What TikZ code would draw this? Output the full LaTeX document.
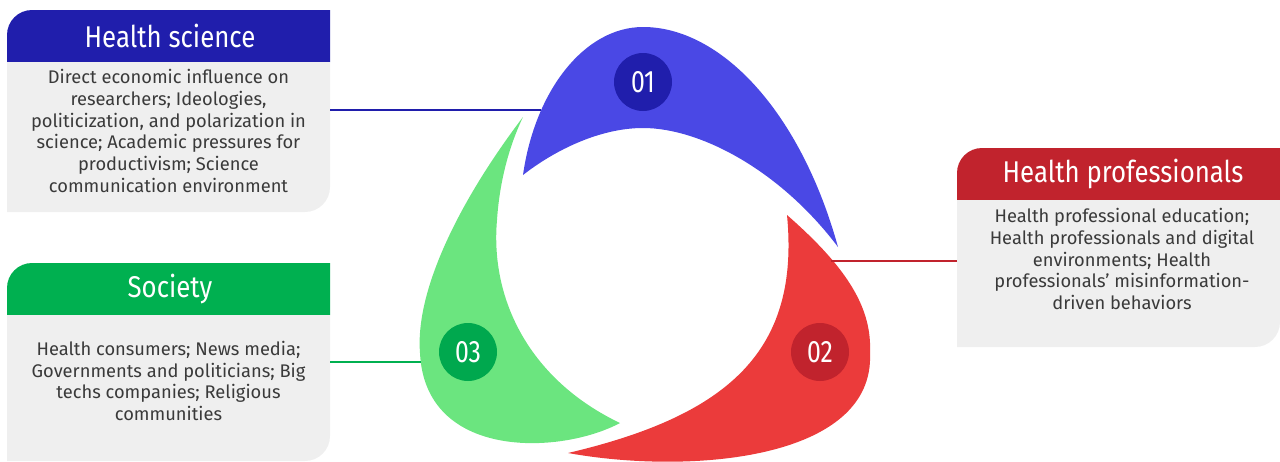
\documentclass[tikz,border=0pt]{standalone}
\usepackage{fontspec}
\setmainfont{Fira Sans}
\newfontfamily\headfont{Fira Sans}[FakeStretch=0.86]
\newfontfamily\numfont{Fira Sans}[FakeStretch=0.8]
\definecolor{hblue}{RGB}{32,30,172}
\definecolor{bblue}{RGB}{74,72,229}
\definecolor{hred}{RGB}{193,35,45}
\definecolor{bred}{RGB}{235,59,59}
\definecolor{hgreen}{RGB}{0,176,80}
\definecolor{cgreen}{RGB}{0,168,78}
\definecolor{bgreen}{RGB}{107,229,127}
\definecolor{panel}{RGB}{239,239,239}
\definecolor{bodytext}{RGB}{58,58,58}
\tikzset{
  headtext/.style={text=white, font=\headfont\fontsize{30}{32}\selectfont, anchor=center},
  bodytextstyle/.style={text=bodytext, font=\fontsize{18.3}{21.8}\selectfont, align=center, anchor=center},
  numtext/.style={circle, minimum size=58pt, inner sep=0pt, text=white, font=\numfont\fontsize{31}{32}\selectfont},
  link/.style={line width=2pt},
}
\begin{document}
\begin{tikzpicture}[x=1pt,y=-1pt]
\useasboundingbox (0,0) rectangle (1280,461);

% ---- blades of the cycle ----
\fill[bblue] (523,175) .. controls (535,90) and (585,27) .. (643,27)
  .. controls (720,27) and (800,110) .. (838,247)
  .. controls (780,170) and (700,128) .. (643,128)
  .. controls (600,128) and (555,150) .. (523,175) -- cycle;

\fill[bred] (787,215) .. controls (850,270) and (872,310) .. (870,353)
  .. controls (875,460) and (690,475) .. (568,453)
  .. controls (730,415) and (800,350) .. (787,215) -- cycle;

\fill[bgreen] (523,117) .. controls (460,200) and (415,290) .. (420,353)
  .. controls (425,460) and (560,455) .. (620,423)
  .. controls (530,380) and (490,300) .. (497,220)
  .. controls (500,175) and (512,140) .. (523,117) -- cycle;

% ---- numbered badges ----
\node[numtext, fill=hblue] (n1) at (643,82) {01};
\node[numtext, fill=hred] (n2) at (820,352) {02};
\node[numtext, fill=cgreen] (n3) at (468,352) {03};

% ---- panel: Health science ----
\fill[hblue] (7,62) -- (7,35) arc[start angle=180, end angle=270, radius=25] -- (330,10) -- (330,62) -- cycle;
\fill[panel] (7,62) -- (330,62) -- (330,187) arc[start angle=0, end angle=90, radius=25] -- (7,212) -- cycle;
\node[headtext] (h1) at (170,36) {Health science};
\node[bodytextstyle] (t1) at (168.5,131) {Direct economic influence on\\researchers; Ideologies,\\politicization, and polarization in\\science; Academic pressures for\\productivism; Science\\communication environment};

% ---- panel: Society ----
\fill[hgreen] (7,315) -- (7,288) arc[start angle=180, end angle=270, radius=25] -- (330,263) -- (330,315) -- cycle;
\fill[panel] (7,315) -- (330,315) -- (330,436) arc[start angle=0, end angle=90, radius=25] -- (7,461) -- cycle;
\node[headtext] (h3) at (170,289) {Society};
\node[bodytextstyle] (t3) at (168.5,381) {Health consumers; News media;\\Governments and politicians; Big\\techs companies; Religious\\communities};

% ---- panel: Health professionals ----
\fill[hred] (957,200) -- (957,173) arc[start angle=180, end angle=270, radius=25] -- (1280,148) -- (1280,200) -- cycle;
\fill[panel] (957,200) -- (1280,200) -- (1280,322) arc[start angle=0, end angle=90, radius=25] -- (957,347) -- cycle;
\node[headtext] (h2) at (1123,174) {Health professionals};
\node[bodytextstyle] (t2) at (1122,259) {Health professional education;\\Health professionals and digital\\environments; Health\\professionals’ misinformation-\\driven behaviors};

% ---- leader lines ----
\coordinate (p1) at (330,110);
\coordinate (b1) at (541,110);
\coordinate (p2) at (957,261);
\coordinate (b2) at (831,261);
\coordinate (p3) at (330,362);
\coordinate (b3) at (421,362);
\draw[link, hblue] (p1) -- (b1);
\draw[link, hred] (p2) -- (b2);
\draw[link, hgreen] (p3) -- (b3);
\end{tikzpicture}
\end{document}
